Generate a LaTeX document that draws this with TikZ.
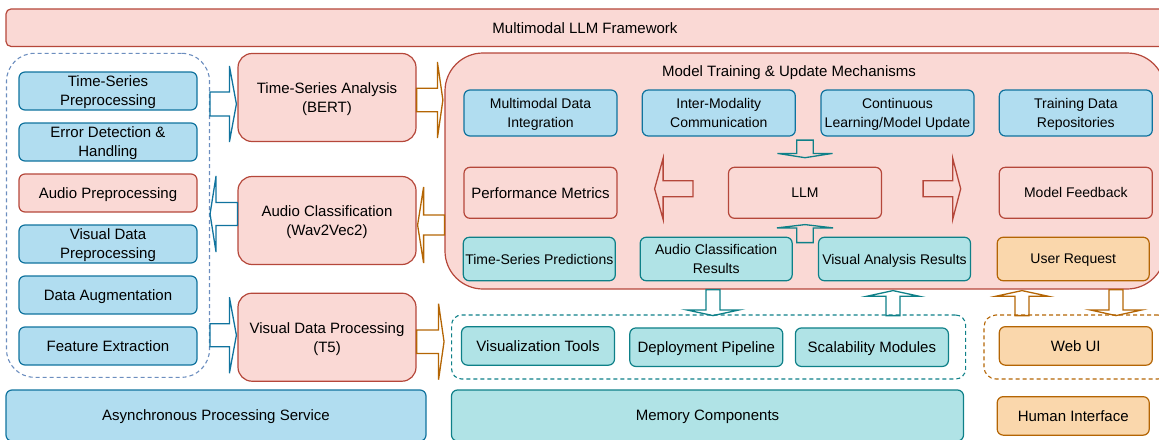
\documentclass[tikz,border=0pt]{standalone}
\usepackage{fontspec}
\setmainfont{Liberation Sans}
\usepackage{xcolor}
\usetikzlibrary{calc}

\definecolor{blueF}{HTML}{B1DDF0}
\definecolor{blueD}{HTML}{10739E}
\definecolor{redF}{HTML}{FAD9D5}
\definecolor{redD}{HTML}{B5473A}
\definecolor{tealF}{HTML}{B0E3E6}
\definecolor{tealD}{HTML}{0E8088}
\definecolor{orgF}{HTML}{FAD7AC}
\definecolor{orgD}{HTML}{B46504}
\definecolor{grpD}{HTML}{6C8EBF}

% block arrow: [style]{from}{to}{half shaft}{half head}{head length}
\newcommand{\fatarrow}[6][]{%
\coordinate (fas) at (#2);
\coordinate (fat) at (#3);
\coordinate (fab) at ($(fat)!#6!(fas)$);
\draw[#1] ($(fas)!#4!90:(fat)$) -- ($(fab)!#4!270:(fas)$) -- ($(fab)!#5!270:(fas)$) -- (fat)
 -- ($(fab)!#5!90:(fas)$) -- ($(fab)!#4!90:(fas)$) -- ($(fas)!#4!270:(fat)$) -- cycle;}

\begin{document}
\begin{tikzpicture}[x=1pt,y=-1pt,
  box/.style={draw, line width=1.2pt, rounded corners=6pt, align=center, inner sep=1pt,
    text depth=0pt, font=\fontsize{15}{19}\selectfont},
  inner/.style={font=\fontsize{14}{18.5}\selectfont},
  bluebox/.style={box, fill=blueF, draw=blueD},
  redbox/.style={box, fill=redF, draw=redD},
  tealbox/.style={box, fill=tealF, draw=tealD},
  orgbox/.style={box, fill=orgF, draw=orgD},
  modelbox/.style={redbox, minimum width=178pt, minimum height=88pt, rounded corners=14pt},
  group/.style={draw, line width=1.1pt, dash pattern=on 4pt off 3pt},
  barrow/.style={draw=blueD, line width=1.3pt},
  oarrow/.style={draw=orgD, line width=1.3pt},
  rarrow/.style={draw=redD, line width=1.3pt},
  tarrow/.style={draw=tealD, line width=1.3pt}]
\useasboundingbox (0,0) rectangle (1159,439);
\clip (0,0) rectangle (1159,439);

%top bar
\node[redbox, minimum width=1158pt, minimum height=37.5pt, rounded corners=5pt] (frame) at (585,27.7) {Multimodal LLM Framework};

%preprocessing column
\node[group, draw=grpD, rounded corners=28pt, minimum width=203pt, minimum height=324pt] (prepgrp) at (108,215.3) {};
\foreach \n/\y/\s/\t in {tsprep/91/bluebox/{Time-Series\\Preprocessing},
  errdet/142/bluebox/{Error Detection \&\\Handling},
  audprep/193/redbox/{Audio Preprocessing},
  visprep/244/bluebox/{Visual Data\\Preprocessing},
  dataug/295/bluebox/{Data Augmentation},
  featx/346/bluebox/{Feature Extraction}}
  \node[\s, minimum width=178pt, minimum height=38pt] (\n) at (108,\y) {\t};

%models
\node[modelbox] (tsa) at (327,97.5) {Time-Series Analysis\\(BERT)};
\node[modelbox] (ac) at (327,220.5) {Audio Classification\\(Wav2Vec2)};
\node[modelbox] (vdp) at (327,337.2) {Visual Data Processing\\(T5)};

%training block
\node[redbox, rounded corners=38pt, minimum width=720pt, minimum height=236pt] (train) at (805,171) {};
\node[font=\fontsize{15}{19}\selectfont, text depth=0pt] (traintitle) at (789,71) {Model Training \& Update Mechanisms};
\foreach \n/\x/\t in {mdi/540.5/{Multimodal Data\\Integration},
  imc/718.8/{Inter-Modality\\Communication},
  clu/897.5/{Continuous\\Learning/Model Update},
  tdr/1075.8/{Training Data\\Repositories}}
  \node[bluebox, inner, minimum width=153pt, minimum height=46pt] (\n) at (\x,113) {\t};
\node[redbox, minimum width=153pt, minimum height=51pt] (perf) at (540.5,192.8) {Performance Metrics};
\node[redbox, inner, minimum width=153pt, minimum height=51pt] (llm) at (805,192.8) {LLM};
\node[redbox, inner, minimum width=153pt, minimum height=51pt] (mf) at (1075.8,192.8) {Model Feedback};
\foreach \n/\x/\t in {tsp/539.3/{Time-Series Predictions},
  acr/716.2/{Audio Classification\\Results},
  var/894.5/{Visual Analysis Results}}
  \node[tealbox, inner, minimum width=152pt, minimum height=43.5pt] (\n) at (\x,259) {\t};
\node[orgbox, inner, minimum width=152pt, minimum height=43.5pt] (ur) at (1073.2,259) {User Request};

%output tools
\node[group, draw=tealD, rounded corners=10pt, minimum width=514pt, minimum height=64pt] (outgrp) at (708.6,347) {};
\node[tealbox, minimum width=153pt, minimum height=38.5pt] (vt) at (538,345.9) {Visualization Tools};
\node[tealbox, minimum width=153pt, minimum height=38.5pt] (dp) at (706.3,347.2) {Deployment Pipeline};
\node[tealbox, minimum width=153pt, minimum height=38.5pt] (sm) at (871.9,347.2) {Scalability Modules};
\node[group, draw=orgD, rounded corners=12pt, minimum width=186pt, minimum height=64pt] (uigrp) at (1077,347) {};
\node[orgbox, minimum width=153pt, minimum height=38.5pt] (web) at (1075.8,345.9) {Web UI};

%bottom row
\node[bluebox, minimum width=420pt, minimum height=51pt] (async) at (216,415.5) {Asynchronous Processing Service};
\node[tealbox, minimum width=512pt, minimum height=51pt] (mem) at (707.5,415.5) {Memory Components};
\node[orgbox, minimum width=152pt, minimum height=38.5pt] (hi) at (1073.2,415.9) {Human Interface};

%arrows
\fatarrow[barrow]{$(prepgrp.east |- tsa.west)+(0,6.5)$}{$(tsa.west)+(-1,6.5)$}{12pt}{38pt}{7pt}
\fatarrow[barrow]{$(ac.west)+(0,-6.5)$}{$(prepgrp.east |- ac.west)+(0,-6.5)$}{11.5pt}{38pt}{6pt}
\fatarrow[barrow]{$(prepgrp.east |- vdp.west)+(0,-2)$}{$(vdp.west)+(-1,-2)$}{11.5pt}{38pt}{7pt}
\fatarrow[oarrow]{$(tsa.east)+(0,2.5)$}{$(train.west |- tsa.east)+(-1.5,2.5)$}{11.7pt}{38pt}{5.5pt}
\fatarrow[oarrow]{$(train.west |- ac.east)+(0,4.5)$}{$(ac.east)+(1,4.5)$}{10pt}{38pt}{6pt}
\fatarrow[oarrow]{$(vdp.east)+(0,4.5)$}{$(outgrp.west |- vdp.east)+(-7,4.5)$}{11.7pt}{38pt}{5.5pt}
\fatarrow[rarrow]{$(llm.west)+(-35,-4)$}{$(perf.east)+(37,-4)$}{8pt}{30.5pt}{8.5pt}
\fatarrow[rarrow]{$(llm.east)+(41,-4)$}{$(mf.west)+(-38,-4)$}{8pt}{30.5pt}{8pt}
\fatarrow[tarrow]{$(llm.north)+(0,-26.6)$}{$(llm.north)+(0,-9)$}{8.3pt}{27.5pt}{4.3pt}
\fatarrow[tarrow]{$(llm.south)+(0,23.7)$}{$(llm.south)+(0,5.7)$}{8.3pt}{28pt}{3.3pt}
\fatarrow[tarrow]{$(train.south)+(-92,0)$}{$(train.south)+(-92,26)$}{7pt}{26.4pt}{5.7pt}
\fatarrow[tarrow]{$(train.south)+(88,26)$}{$(train.south)+(88,1)$}{7pt}{26.4pt}{5.7pt}
\fatarrow[oarrow]{$(train.south)+(217,26)$}{$(train.south)+(217,1)$}{7pt}{26.4pt}{5.7pt}
\fatarrow[oarrow]{$(train.south)+(311,0)$}{$(train.south)+(311,26)$}{7pt}{26pt}{5.7pt}
\end{tikzpicture}
\end{document}
